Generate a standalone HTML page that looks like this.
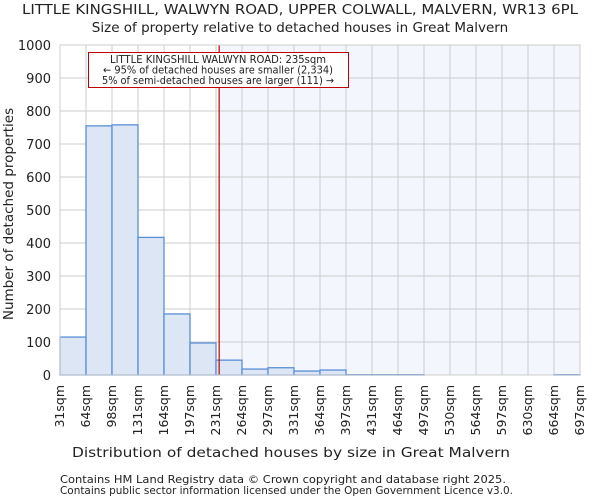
<!DOCTYPE html>
<html><head><meta charset="utf-8"><style>
body{margin:0;background:#fff;font-family:"DejaVu Sans","Liberation Sans",sans-serif;}
svg text{font-family:"DejaVu Sans","Liberation Sans",sans-serif;fill:#222;}
</style></head><body>
<svg id="chart" width="600" height="500" viewBox="0 0 600 500">
<text x="300" y="14" text-anchor="middle" font-size="13.5" textLength="556" lengthAdjust="spacingAndGlyphs">LITTLE KINGSHILL, WALWYN ROAD, UPPER COLWALL, MALVERN, WR13 6PL</text>
<text x="300" y="32" text-anchor="middle" font-size="13.5">Size of property relative to detached houses in Great Malvern</text>
<g id="grid"></g>
<g id="bars"></g>
<g id="axes"></g>
<text x="291" y="457" text-anchor="middle" font-size="13.5" textLength="438" lengthAdjust="spacingAndGlyphs">Distribution of detached houses by size in Great Malvern</text>
<text transform="translate(13,214) rotate(-90)" text-anchor="middle" font-size="13.5">Number of detached properties</text>
<text x="60" y="483" font-size="10.5" fill="#444" textLength="446" lengthAdjust="spacingAndGlyphs">Contains HM Land Registry data © Crown copyright and database right 2025.</text>
<text x="60" y="494" font-size="10.5" fill="#444" textLength="453" lengthAdjust="spacingAndGlyphs">Contains public sector information licensed under the Open Government Licence v3.0.</text>
</svg>
<script>
const binLabels=["31sqm","64sqm","98sqm","131sqm","164sqm","197sqm","231sqm","264sqm","297sqm","331sqm","364sqm","397sqm","431sqm","464sqm","497sqm","530sqm","564sqm","597sqm","630sqm","664sqm","697sqm"];
const binEdges=[31,64,98,131,164,197,231,264,297,331,364,397,431,464,497,530,564,597,630,664,697];
const counts=[115,755,758,417,185,97,45,18,22,12,15,1,1,1,0,0,0,0,0,1];
const yTicks=[0,100,200,300,400,500,600,700,800,900,1000];
const subjectSize=235;
const NS="http://www.w3.org/2000/svg";
const X0=60,X1=580,Y0=375,Y1=45,YMAX=1000;
const nb=counts.length;
function xi(i){return X0+(X1-X0)*i/nb;}
function xv(v){for(let i=0;i<binEdges.length-1;i++){if(v<=binEdges[i+1])return xi(i)+(v-binEdges[i])/(binEdges[i+1]-binEdges[i])*(xi(i+1)-xi(i));}return X1;}
function y(v){return Y0-(Y0-Y1)*v/YMAX;}
function mk(tag,attrs,parent){const e=document.createElementNS(NS,tag);for(const k in attrs)e.setAttribute(k,attrs[k]);parent.appendChild(e);return e;}
const grid=document.getElementById('grid'),bars=document.getElementById('bars'),axes=document.getElementById('axes');
const sx=xv(subjectSize);
const shade=mk('rect',{x:sx,y:Y1,width:X1-sx,height:Y0-Y1,fill:'#f3f6fd'},grid);


yTicks.forEach(t=>{
 const l=mk('line',{x1:X0,x2:X1,y1:y(t),y2:y(t),stroke:'#cccccc','stroke-width':1},grid);
 
 
 const tx=mk('text',{x:X0-9,y:y(t)+5,'text-anchor':'end','font-size':13},axes);
 tx.textContent=t;
 
 
});
binLabels.forEach((lab,i)=>{
 const x=xi(i);
 const l=mk('line',{x1:x,x2:x,y1:Y1,y2:Y0,stroke:'#cccccc','stroke-width':1},grid);
 
 
 const tx=mk('text',{transform:`translate(${x+4},${Y0+10}) rotate(-90)`,'text-anchor':'end','font-size':12.5},axes);
 tx.textContent=lab;
 
 
});
counts.forEach((c,i)=>{
 if(c<=0)return;
 const r=mk('rect',{x:xi(i),y:y(c),width:xi(i+1)-xi(i),height:Y0-y(c),fill:'#dce6f4',stroke:'#5b8fd6','stroke-width':1.3},bars);
 
 
});
const rl=mk('line',{x1:sx,x2:sx,y1:Y1,y2:Y0,stroke:'#c00000','stroke-width':1.2},bars);


const box=mk('rect',{x:88.5,y:52.5,width:260,height:35,fill:'#fff',stroke:'#c00000','stroke-width':1},bars);


const annW=[216,230,232];
["LITTLE KINGSHILL WALWYN ROAD: 235sqm","← 95% of detached houses are smaller (2,334)","5% of semi-detached houses are larger (111) →"].forEach((s,k)=>{
 const t=mk('text',{x:218,y:63+k*10.5,'text-anchor':'middle','font-size':10.4,textLength:annW[k],lengthAdjust:'spacingAndGlyphs'},bars);
 t.textContent=s;
 
 
});
const frame=mk('rect',{x:X0,y:Y1,width:X1-X0,height:Y0-Y1,fill:'none',stroke:'#cccccc'},axes);


</script>
</body></html>
